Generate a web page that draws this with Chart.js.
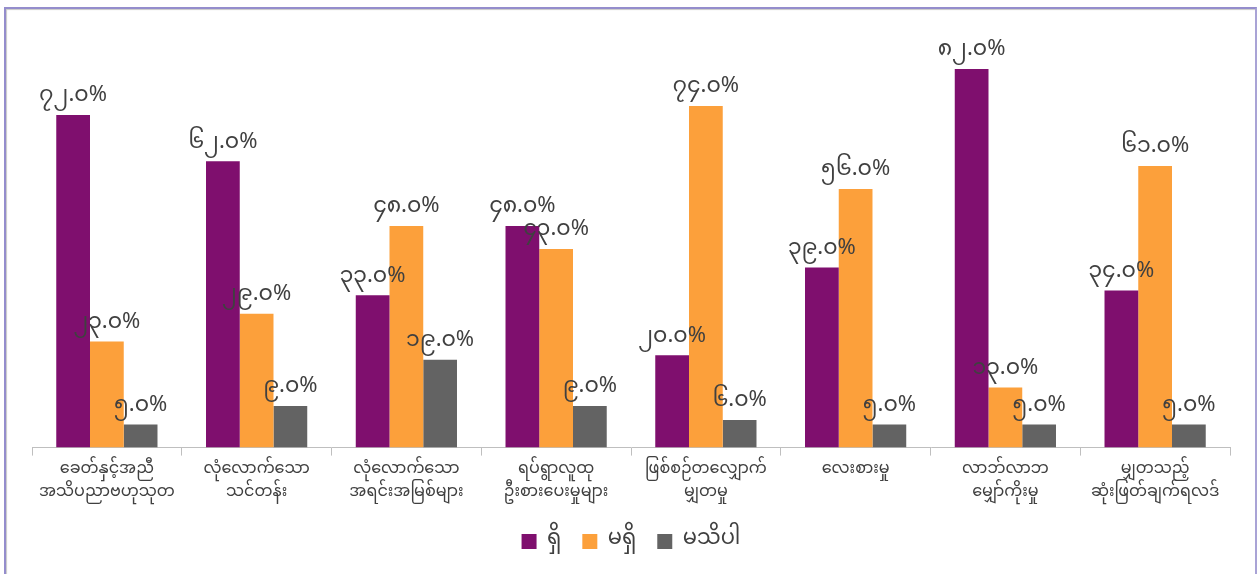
<!DOCTYPE html>
<html>
<head>
<meta charset="utf-8">
<script src="https://cdn.jsdelivr.net/npm/chart.js@4"></script>
<style>
  html, body { margin: 0; padding: 0; background: #fff; }
  #frame {
    position: absolute; left: 4px; top: 7px; width: 1249px; height: 580px;
    border-left: 2px solid #948dcc; border-top: 2px solid #948dcc; border-right: 2px solid #a9a3d6;
    box-shadow: inset 1px 1px 1px #c8c8c8;
  }
  #wrap { position: absolute; left: 0; top: 0; width: 1258px; height: 574px; }
</style>
</head>
<body>
<div id="frame"></div>
<div id="wrap"><canvas id="chart" width="1258" height="574"></canvas></div>
<script>
const categories = [
    ['ခေတ်နှင့်အညီ', 'အသိပညာဗဟုသုတ'],
    ['လုံလောက်သော', 'သင်တန်း'],
    ['လုံလောက်သော', 'အရင်းအမြစ်များ'],
    ['ရပ်ရွာလူထု', 'ဦးစားပေးမှုများ'],
    ['ဖြစ်စဉ်တလျှောက်', 'မျှတမှု'],
    ['လေးစားမှု'],
    ['လာဘ်လာဘ', 'မျှော်ကိုးမှု'],
    ['မျှတသည့်', 'ဆုံးဖြတ်ချက်ရလဒ်']
];
const seriesNames = ['ရှိ', 'မရှိ', 'မသိပါ'];
const yesValues = [72, 62, 33, 48, 20, 39, 82, 34];
const noValues = [23, 29, 48, 43, 74, 56, 13, 61];
const dontKnowValues = [5, 9, 19, 9, 6, 5, 5, 5];
const colors = ['#7f0f6e', '#fca03b', '#636363'];

const myDigits = '၀၁၂၃၄၅၆၇၈၉';
function toMyanmar(str) {
    return str.replace(/[0-9]/g, d => myDigits[d]);
}

const fontFamily = '"Noto Sans Myanmar", "Padauk", "Myanmar Text", "Noto Sans", sans-serif';

// draws the percentage labels above each bar
const valueLabels = {
    id: 'valueLabels',
    afterDatasetsDraw(chart) {
        const ctx = chart.ctx;
        ctx.save();
        ctx.font = '22px ' + fontFamily;
        ctx.fillStyle = '#404040';
        ctx.textAlign = 'center';
        ctx.textBaseline = 'bottom';
        chart.data.datasets.forEach((ds, i) => {
            const meta = chart.getDatasetMeta(i);
            meta.data.forEach((bar, j) => {
                const text = toMyanmar(ds.data[j].toFixed(1)) + '%';
                ctx.fillText(text, bar.x, bar.y - 5);
            });
        });
        ctx.restore();
    }
};

new Chart(document.getElementById('chart'), {
    type: 'bar',
    data: {
        labels: categories,
        datasets: [
            { label: seriesNames[0], data: yesValues, backgroundColor: colors[0] },
            { label: seriesNames[1], data: noValues, backgroundColor: colors[1] },
            { label: seriesNames[2], data: dontKnowValues, backgroundColor: colors[2] }
        ]
    },
    options: {
        responsive: false,
        animation: false,
        categoryPercentage: 0.676,
        barPercentage: 1.0,
        layout: { padding: { left: 32, right: 28, top: 32, bottom: 12 } },
        plugins: {
            legend: {
                position: 'bottom',
                labels: {
                    boxWidth: 15,
                    boxHeight: 15,
                    padding: 21,
                    color: '#404040',
                    font: { size: 21, family: fontFamily }
                }
            },
            tooltip: { enabled: false }
        },
        scales: {
            x: {
                grid: {
                    display: true,
                    drawOnChartArea: false,
                    drawTicks: true,
                    tickLength: 8,
                    color: '#bfbfbf',
                    offset: true
                },
                border: { color: '#bfbfbf' },
                ticks: {
                    color: '#404040',
                    maxRotation: 0,
                    autoSkip: false,
                    padding: 4,
                    font: { size: 16, family: fontFamily, lineHeight: 1.45 }
                }
            },
            y: {
                display: false,
                min: 0,
                max: 90
            }
        }
    },
    plugins: [valueLabels]
});
</script>
</body>
</html>
